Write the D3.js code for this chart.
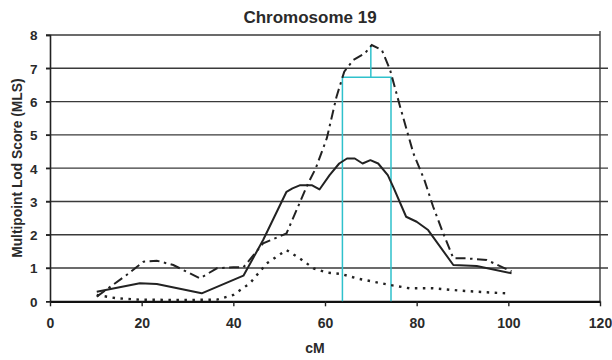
<!DOCTYPE html>
<html><head><meta charset="utf-8">
<script src="https://cdn.jsdelivr.net/npm/d3@7"></script>
<style>body{margin:0;background:#fff}svg{display:block}text{font-family:"Liberation Sans",Arial,sans-serif;font-weight:bold;fill:#2a2a2a}</style>
</head><body><svg id="c" width="612" height="360"></svg>
<script>
const title = "Chromosome 19";
const xLabel = "cM";
const yLabel = "Multipoint Lod Score (MLS)";
const xTicks = [0,20,40,60,80,100,120];
const yTicks = [0,1,2,3,4,5,6,7,8];

// Solid line
const solidCM  = [10.2,19.6,23.3,33.1,42.2,46.5,51.6,52.9,54.6,57.1,58.8,61.0,63.1,64.8,66.5,68.2,69.9,71.6,73.7,75.0,77.7,80.0,82.5,88.0,93.1,100.7];
const solidMLS = [0.29,0.54,0.52,0.24,0.77,1.84,3.29,3.39,3.49,3.49,3.36,3.79,4.14,4.29,4.29,4.14,4.24,4.14,3.79,3.40,2.54,2.39,2.14,1.09,1.06,0.84];
// Dash-dot line
const dashCM  = [10.2,16.7,20.4,23.3,26.9,32.7,36.4,40.0,42.2,46.5,51.6,56.3,58.0,60.4,62.5,64.2,66.2,68.7,70.2,72.4,74.2,76.4,79.3,81.7,83.6,85.8,88.0,90.9,95.3,100.7];
const dashMLS = [0.14,0.79,1.19,1.22,1.09,0.69,0.99,1.02,1.02,1.74,2.04,3.54,4.00,4.90,6.14,6.90,7.25,7.45,7.70,7.55,6.95,5.84,4.44,3.64,2.84,2.04,1.29,1.29,1.24,0.90];
// Dotted line
const dotCM  = [10.2,14.5,19.6,28.0,36.4,40.0,43.6,47.3,51.6,54.5,57.5,60.4,63.6,66.9,70.5,74.2,78.5,83.6,89.5,95.3,99.6];
const dotMLS = [0.19,0.09,0.05,0.04,0.05,0.19,0.54,1.14,1.54,1.29,0.99,0.86,0.82,0.69,0.59,0.49,0.39,0.39,0.32,0.27,0.24];
// Cyan support-interval bracket
const bracketCM = [63.8, 70.0, 74.4];   // left, peak, right
const bracketMLS = [6.73, 7.7];          // bar level, peak top

const svg = d3.select("#c");
const L=50, R=600, T=35, B=301.3;
const x = d3.scaleLinear().domain([0,120]).range([L,R]);
const y = d3.scaleLinear().domain([0,8]).range([B,T]);

// gridlines
svg.append("g").selectAll("line").data(yTicks.filter(d=>d>0)).join("line")
  .attr("x1",L-4).attr("x2",d=>d===8?R:R+8)
  .attr("y1",d=>y(d)).attr("y2",d=>y(d))
  .attr("stroke","#3a3a3a").attr("stroke-width",1.4);
// right border
svg.append("line").attr("x1",R).attr("x2",R).attr("y1",T-4).attr("y2",B)
  .attr("stroke","#3a3a3a").attr("stroke-width",1.4);

// y axis
const ya = svg.append("g").attr("transform",`translate(${L},0)`)
  .call(d3.axisLeft(y).tickValues(yTicks).tickSize(4).tickFormat(d3.format("d")));
ya.attr("font-family",null).attr("font-size",null);
ya.select(".domain").attr("stroke","#222").attr("stroke-width",1.6);
ya.selectAll(".tick line").attr("stroke","#222").attr("stroke-width",1.4);
ya.selectAll("text").style("font-size","13.5px").attr("x",-12.5).attr("dy","0.36em").style("fill","#2a2a2a");

// x axis
const xa = svg.append("g").attr("transform",`translate(0,${B})`)
  .call(d3.axisBottom(x).tickValues(xTicks).tickSize(5).tickSizeOuter(0));
xa.attr("font-family",null).attr("font-size",null);
xa.select(".domain").attr("stroke","#111").attr("stroke-width",2.2);
xa.selectAll(".tick line").attr("stroke","#222").attr("stroke-width",1.4);
xa.selectAll("text").style("font-size","14px").attr("y",0).attr("dy",27).style("fill","#2a2a2a");

const line = d3.line().x(d=>x(d[0])).y(d=>y(d[1]));
const zip=(a,b)=>a.map((v,i)=>[v,b[i]]);

// cyan bracket
const cy="#2fc1cc";
const g = svg.append("g").attr("stroke",cy).attr("stroke-width",1.5).attr("fill","none");
g.append("path").attr("d",line([[bracketCM[0],0],[bracketCM[0],bracketMLS[0]],[bracketCM[2],bracketMLS[0]],[bracketCM[2],0]]));
g.append("path").attr("d",line([[bracketCM[1],bracketMLS[0]],[bracketCM[1],bracketMLS[1]]]));

svg.append("path").attr("d",line(zip(dotCM,dotMLS))).attr("fill","none")
  .attr("stroke","#222").attr("stroke-width",2.4).attr("stroke-dasharray","2.5,5.5");
svg.append("path").attr("d",line(zip(dashCM,dashMLS))).attr("fill","none")
  .attr("stroke","#222").attr("stroke-width",2).attr("stroke-dasharray","10,4.5,2.5,4.5");
svg.append("path").attr("d",line(zip(solidCM,solidMLS))).attr("fill","none")
  .attr("stroke","#222").attr("stroke-width",2).attr("stroke-linejoin","round");

// labels
svg.append("text").attr("x",310).attr("y",22.5).attr("text-anchor","middle").style("font-size","17px").text(title);
svg.append("text").attr("x",315).attr("y",353).attr("text-anchor","middle").style("font-size","14px").text(xLabel);
svg.append("text").attr("transform",`translate(22,${(T+B)/2}) rotate(-90)`).attr("text-anchor","middle").style("font-size","13.8px").text(yLabel);
</script></body></html>
